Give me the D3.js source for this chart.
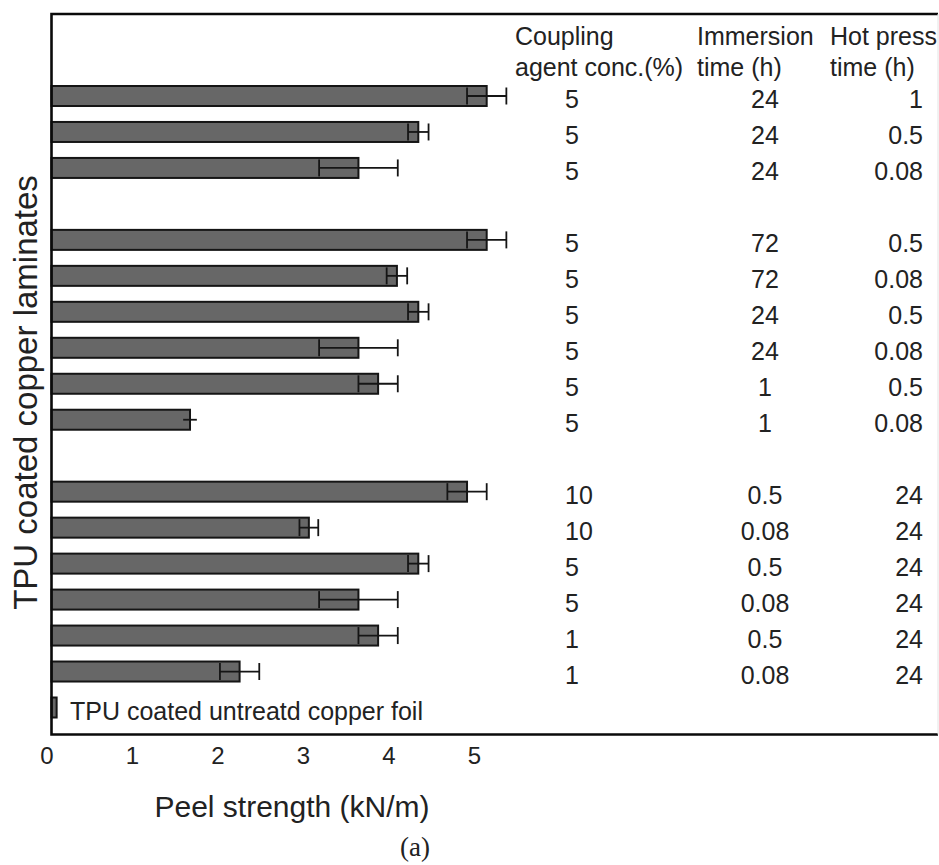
<!DOCTYPE html>
<html>
<head>
<meta charset="utf-8">
<script src="https://cdn.jsdelivr.net/npm/d3@7"></script>
<style>
  body { margin: 0; background: #fff; }
  text { font-family: Arial, "Liberation Sans", Helvetica, sans-serif; fill: #222; }
</style>
</head>
<body>
<div id="zone"></div>
<script>
(function() {
  "use strict";

  // peel strength (kN/m), top bar first
  var peel    = [5.09, 4.29, 3.59, 5.09, 4.04, 4.29, 3.59, 3.82, 1.62, 4.86, 3.01, 4.29, 3.59, 3.82, 2.20, 0.06];
  var peelErr = [0.23, 0.12, 0.46, 0.23, 0.12, 0.12, 0.46, 0.23, 0.08, 0.23, 0.11, 0.12, 0.46, 0.23, 0.23, 0];
  // groupe de chaque barre (un espace vide entre deux groupes)
  var group   = ["hot", "hot", "hot", "imm", "imm", "imm", "imm", "imm", "imm",
                 "conc", "conc", "conc", "conc", "conc", "conc", "conc"];

  // colonnes du tableau a droite
  var concCol  = ["5", "5", "5", "5", "5", "5", "5", "5", "5", "10", "10", "5", "5", "1", "1"];
  var immCol   = ["24", "24", "24", "72", "72", "24", "24", "1", "1", "0.5", "0.08", "0.5", "0.08", "0.5", "0.08"];
  var pressCol = ["1", "0.5", "0.08", "0.5", "0.08", "0.5", "0.08", "0.5", "0.08", "24", "24", "24", "24", "24", "24"];
  var untreatedLabel = "TPU coated untreatd copper foil";

  var xTicks = [0, 1, 2, 3, 4, 5];

  var width = 939, height = 865;
  var left = 51.5, top = 14, right = 938, bottom = 734.5;

  var svg = d3.select("#zone").append("svg")
    .attr("width", width)
    .attr("height", height);

  // index de ligne -> position verticale (on saute une ligne entre groupes)
  var slot = [];
  var s = 0;
  group.forEach(function(g, i) {
    if (i > 0 && g !== group[i - 1]) s += 1;
    slot.push(s);
    s += 1;
  });

  var x = d3.scaleLinear().domain([0, 5]).range([left, 479]);
  var y = d3.scaleLinear().domain([0, d3.max(slot)]).range([96, 707.5]);
  var barH = 20;

  var rows = peel.map(function(v, i) {
    return { v: v, e: peelErr[i], slot: slot[i] };
  });

  // barres
  svg.append("g").selectAll("rect")
    .data(rows)
    .join("rect")
    .attr("x", x(0))
    .attr("y", function(d) { return y(d.slot) - barH / 2; })
    .attr("width", function(d) { return x(d.v) - x(0); })
    .attr("height", barH)
    .attr("fill", "#676767")
    .attr("stroke", "#151515")
    .attr("stroke-width", 2);

  // barres d'erreur
  var err = svg.append("g")
    .attr("stroke", "#151515")
    .attr("stroke-width", 1.8);
  var withErr = rows.filter(function(d) { return d.e > 0; });

  err.selectAll("line.h")
    .data(withErr)
    .join("line")
    .attr("class", "h")
    .attr("x1", function(d) { return x(d.v - d.e); })
    .attr("x2", function(d) { return x(d.v + d.e); })
    .attr("y1", function(d) { return y(d.slot); })
    .attr("y2", function(d) { return y(d.slot); });

  var caps = [];
  withErr.filter(function(d) { return d.e >= 0.1; }).forEach(function(d) {
    caps.push({ xv: d.v - d.e, slot: d.slot });
    caps.push({ xv: d.v + d.e, slot: d.slot });
  });
  err.selectAll("line.cap")
    .data(caps)
    .join("line")
    .attr("class", "cap")
    .attr("x1", function(d) { return x(d.xv); })
    .attr("x2", function(d) { return x(d.xv); })
    .attr("y1", function(d) { return y(d.slot) - 8.5; })
    .attr("y2", function(d) { return y(d.slot) + 8.5; });

  // cadre
  svg.append("path")
    .attr("d", "M" + right + "," + top + "H" + left + "V" + bottom + "H" + right)
    .attr("fill", "none")
    .attr("stroke", "#0a0a0a")
    .attr("stroke-width", 2.6);
  svg.append("line")
    .attr("x1", right).attr("x2", right)
    .attr("y1", top).attr("y2", bottom)
    .attr("stroke", "#e4e4e4")
    .attr("stroke-width", 1);

  // axe x
  var xAxis = svg.append("g")
    .attr("transform", "translate(0," + bottom + ")")
    .call(d3.axisBottom(x).tickValues(xTicks).tickFormat(d3.format("d")).tickSize(0).tickPadding(12));
  xAxis.select(".domain").remove();
  xAxis.selectAll("text")
    .attr("dx", -5)
    .style("font-size", "24px")
    .style("font-family", "Arial, 'Liberation Sans', sans-serif")
    .attr("fill", "#222");

  svg.append("text")
    .attr("x", 292)
    .attr("y", 817)
    .attr("text-anchor", "middle")
    .style("font-size", "30px")
    .text("Peel strength (kN/m)");

  svg.append("text")
    .attr("x", 415)
    .attr("y", 856)
    .attr("text-anchor", "middle")
    .style("font-family", "'Liberation Serif', 'Times New Roman', serif")
    .style("font-size", "27px")
    .text("(a)");

  // titre axe y
  svg.append("text")
    .attr("transform", "translate(37,392.5) rotate(-90)")
    .attr("text-anchor", "middle")
    .style("font-size", "33px")
    .text("TPU coated copper laminates");

  // en-tetes du tableau
  var headers = [
    { x: 515, lines: ["Coupling", "agent conc.(%)"] },
    { x: 697, lines: ["Immersion", "time (h)"] },
    { x: 830, lines: ["Hot press", "time (h)"] }
  ];
  headers.forEach(function(h) {
    h.lines.forEach(function(t, k) {
      svg.append("text")
        .attr("x", h.x)
        .attr("y", 45 + k * 30.5)
        .style("font-size", "25px")
        .text(t);
    });
  });

  // valeurs du tableau
  var cols = [
    { vals: concCol, x: 565, anchor: "start" },
    { vals: immCol, x: 765, anchor: "middle" },
    { vals: pressCol, x: 923, anchor: "end" }
  ];
  cols.forEach(function(c) {
    svg.append("g").selectAll("text")
      .data(c.vals)
      .join("text")
      .attr("x", c.x)
      .attr("y", function(d, i) { return y(slot[i]) + 12; })
      .attr("text-anchor", c.anchor)
      .style("font-size", "25px")
      .text(function(d) { return d; });
  });

  // libelle de la barre non traitee
  svg.append("text")
    .attr("x", 70)
    .attr("y", y(slot[slot.length - 1]) + 12.5)
    .style("font-size", "25px")
    .text(untreatedLabel);

})();
</script>
</body>
</html>
